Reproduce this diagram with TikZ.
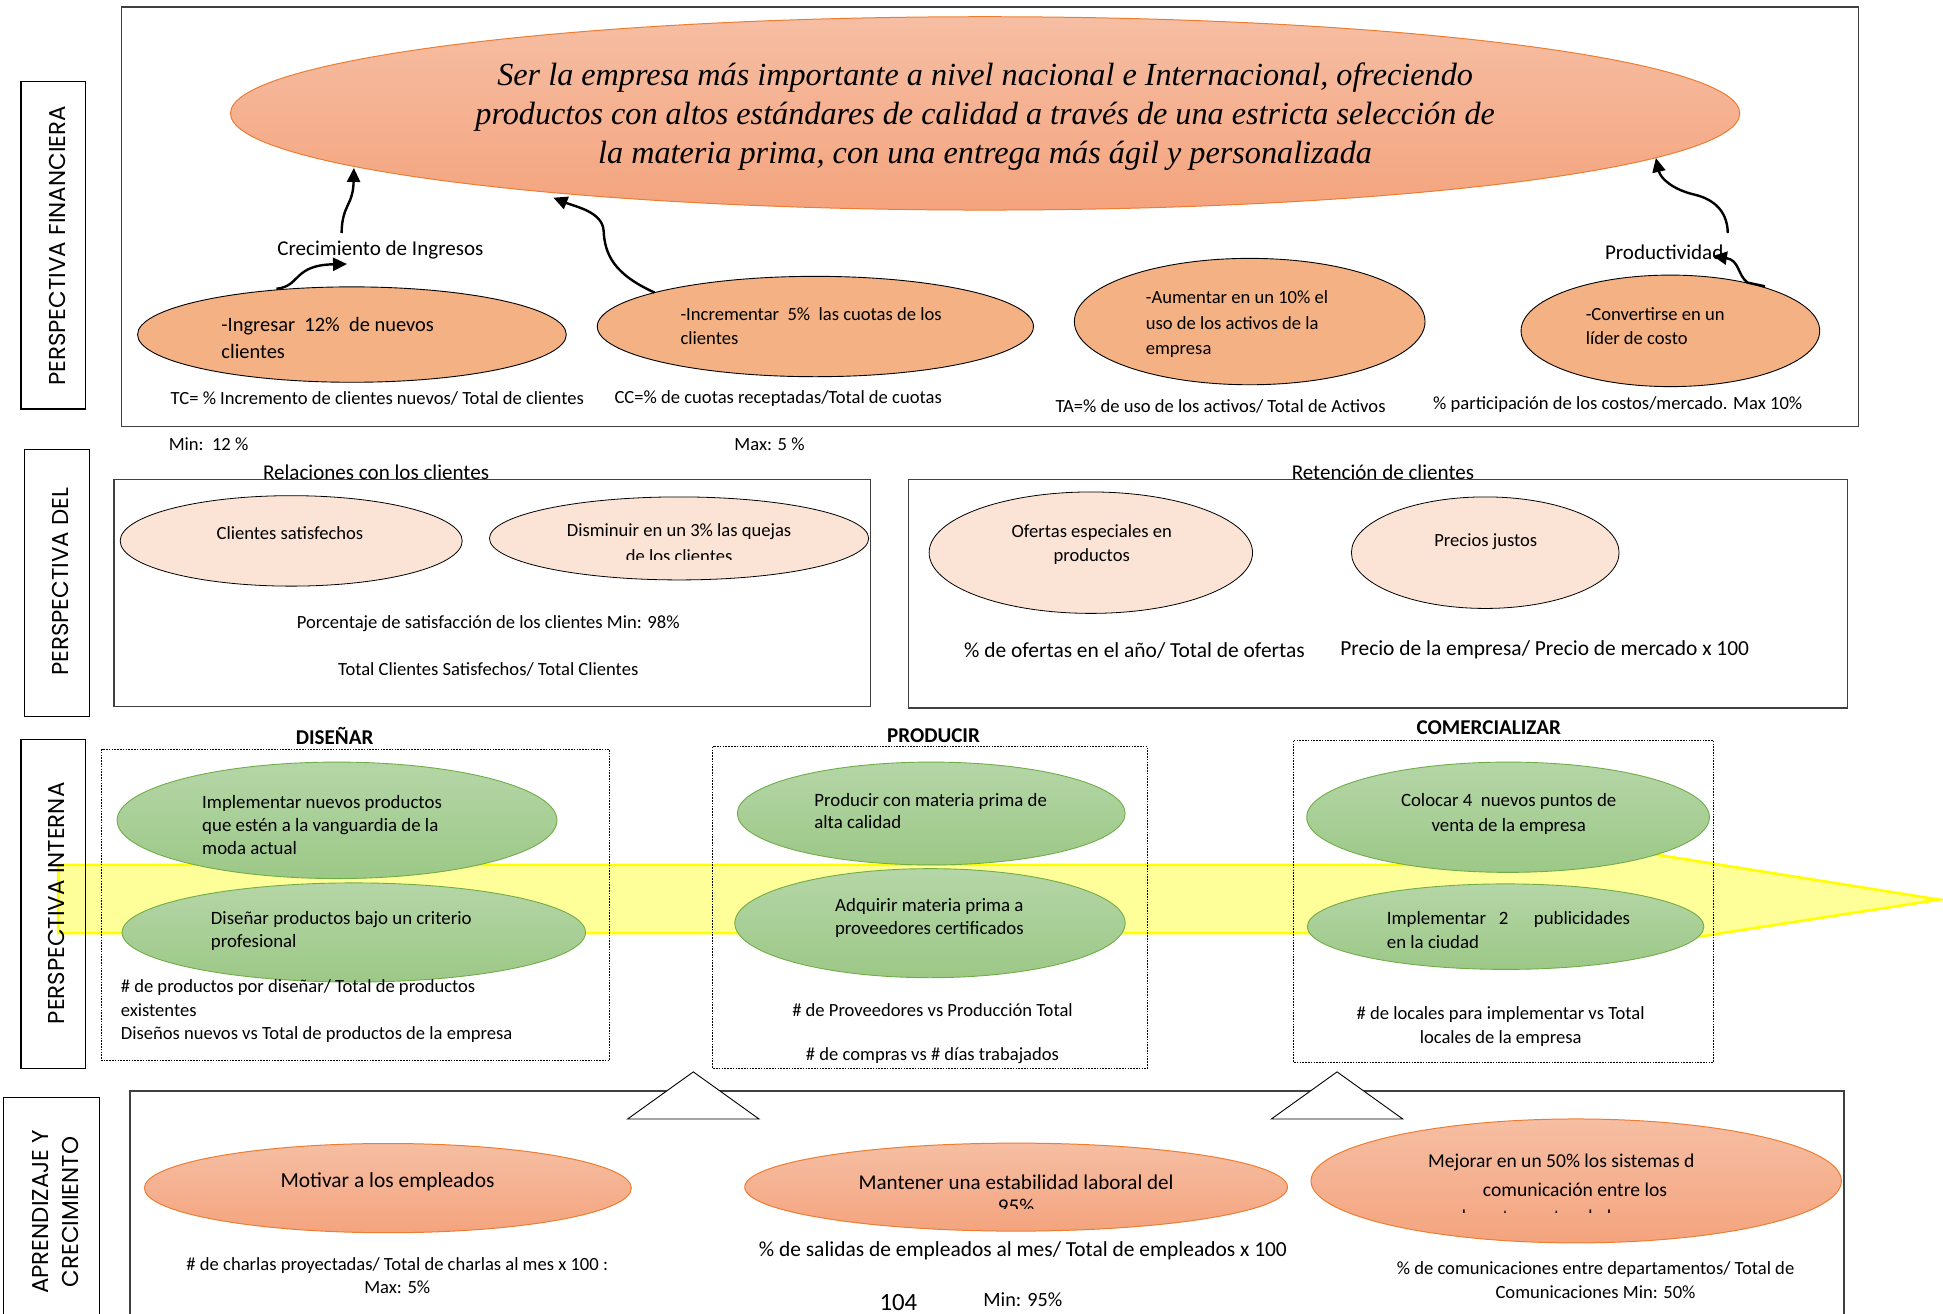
\documentclass[tikz,border=0pt]{standalone}
\usepackage{fontspec}
\setmainfont{Carlito}
\newfontfamily\misfont{Liberation Serif}
\newfontfamily\labfont{Poppins}
\usetikzlibrary{shapes.geometric,arrows.meta}
\definecolor{saltop}{HTML}{F6BEA3}
\definecolor{salbot}{HTML}{F4A47E}
\definecolor{salborder}{HTML}{ED7D31}
\definecolor{finfill}{HTML}{F4B183}
\definecolor{clifill}{HTML}{FBE4D5}
\definecolor{grntop}{HTML}{B5D6A7}
\definecolor{grnbot}{HTML}{9CC887}
\definecolor{grnborder}{HTML}{70AD47}
\definecolor{bandfill}{HTML}{FFFF99}
\definecolor{bandline}{HTML}{FFFF00}
\definecolor{framegray}{HTML}{404040}
\newcommand{\fz}[2]{\fontsize{#1}{#2}\selectfont}
\begin{document}
\begin{tikzpicture}[x=1pt,y=-1pt,scale=1.239,
  every node/.append style={transform shape,inner sep=0pt},
  tx/.style={font=\fz{15}{19},align=center},
  txl/.style={font=\fz{15}{19},align=left,anchor=west},
  frame/.style={draw=framegray,line width=1.4pt},
  labbox/.style={draw=black,line width=1.2pt},
  labtxt/.style={font=\labfont\fz{18.5}{24.6},rotate=90,align=center},
  dotbox/.style={draw=black,line width=0.8pt,dash pattern=on 1.6pt off 1.2pt},
  fin/.style={ellipse,draw=black,line width=0.9pt,fill=finfill},
  cli/.style={ellipse,draw=black,line width=0.8pt,fill=clifill},
  grn/.style={ellipse,draw=grnborder,line width=0.9pt,top color=grntop,bottom color=grnbot},
  sal/.style={ellipse,draw=salborder,line width=1pt,top color=saltop,bottom color=salbot},
  arr/.style={line width=2.4pt,-{Triangle[length=14pt,width=13pt]}},
  ttl/.style={font=\bfseries\fz{17}{20}}]
\useasboundingbox (0,0) rectangle (1568,1060);

% ---------------- Perspectiva financiera ----------------
\draw[frame] (98,5.5) rectangle (1500,344);
\draw[labbox] (17,66) rectangle (69,330);
\node[labtxt] (lfin) at (46.5,198.5) {PERSPECTIVA FINANCIERA};

\node[sal,minimum width=1218,minimum height=156] (mision) at (795,91.5) {};
\node[font=\misfont\itshape\fz{26}{31.6},align=center] (mtxt) at (795,94)
  {Ser la empresa más importante a nivel nacional e Internacional, ofreciendo\\
   productos con altos estándares de calidad a través de una estricta selección de\\
   la materia prima, con una entrega más ágil y personalizada};

\node[fin,minimum width=346,minimum height=77] (f1) at (284,270) {};
\node[txl,font=\fz{16.5}{21.5}] (f1t) at (178.5,273) {-Ingresar\ \ 12\%\ \ de nuevos\\clientes};
\node[fin,minimum width=352,minimum height=81] (f2) at (658,263.5) {};
\node[txl] (f2t) at (549,263) {-Incrementar\ \ 5\%\ \ las cuotas de los\\clientes};
\node[fin,minimum width=283,minimum height=102] (f3) at (1008.5,259.5) {};
\node[txl,font=\fz{15}{20.4}] (f3t) at (924.5,261.6) {-Aumentar en un 10\% el\\uso de los activos de la\\empresa};
\node[fin,minimum width=241,minimum height=90] (f4) at (1348,267) {};
\node[txl] (f4t) at (1279.5,263.4) {-Convertirse en un\\líder de costo};

\node[tx,font=\fz{17}{19}] (crec) at (307,201.8) {Crecimiento de Ingresos};
\node[tx,font=\fz{17}{19}] (prod) at (1343,203.6) {Productividad};

\node[tx] (kf1) at (304.5,321.5) {TC= \% Incremento de clientes nuevos/ Total de clientes};
\node[tx] (kf2) at (628,321.5) {CC=\% de cuotas receptadas/Total de cuotas};
\node[tx] (kf3) at (985,327.7) {TA=\% de uso de los activos/ Total de Activos};
\node[tx] (kf4) at (1305.5,326.8) {\% participación de los costos/mercado. Max 10\%};
\node[txl] (min12) at (136,358.5) {Min:\ \ 12 \%};
\node[tx] (max5) at (621,358.6) {Max: 5 \%};

% arrows
\coordinate (a1s) at (223,233);
\coordinate (a1e) at (280,213);
\draw[arr] (a1s) .. controls (243,231) and (236,214) .. (a1e);
\coordinate (a2s) at (275.6,188);
\coordinate (a2e) at (285.5,135.5);
\draw[arr] (a2s) .. controls (276,165) and (285,166) .. (a2e);
\coordinate (a3s) at (528,236);
\coordinate (a3m) at (487,186);
\coordinate (a3e) at (446.5,159.5);
\draw[arr] (a3s) .. controls (495,221) and (488,205) .. (a3m) .. controls (486,171) and (465,167) .. (a3e);
\coordinate (a4s) at (1394,188);
\coordinate (a4m) at (1367,157);
\coordinate (a4e) at (1336,127.5);
\draw[arr] (a4s) .. controls (1394,168) and (1380,160) .. (a4m) .. controls (1350,153) and (1340,144) .. (a4e);
\coordinate (a5s) at (1424,231);
\coordinate (a5m) at (1410,228);
\coordinate (a5e) at (1382,206.5);
\draw[arr] (a5s) -- (a5m) .. controls (1402,222) and (1404,210) .. (a5e);

% ---------------- Perspectiva del cliente ----------------
\draw[labbox] (20,362.5) rectangle (72.5,578);
\node[labtxt] (lcli) at (48.5,469.5) {PERSPECTIVA DEL};

\draw[frame] (92,387) rectangle (702.5,570);
\draw[frame] (733,387) rectangle (1491,571.5);
\node[tx,font=\fz{17}{19}] (rel) at (303.5,381.5) {Relaciones con los clientes};
\node[tx,font=\fz{17}{19}] (ret) at (1116,381.5) {Retención de clientes};

\node[cli,minimum width=276,minimum height=73] (c1) at (235,436.5) {};
\node[tx] (c1t) at (234,430) {Clientes satisfechos};
\node[cli,minimum width=306,minimum height=67] (c2) at (548,434.5) {};
\node[tx] (c2t) at (548,429) {Disminuir en un 3\% las quejas};
\begin{scope}
  \clip (395,400) rectangle (701,451.5);
  \node[tx] (c2u) at (548,448.7) {de los clientes};
\end{scope}
\node[tx] (kc1) at (394,503) {Porcentaje de satisfacción de los clientes Min: 98\%};
\node[tx] (kc2) at (394,540) {Total Clientes Satisfechos/ Total Clientes};

\node[cli,minimum width=261,minimum height=98] (c3) at (880.3,446) {};
\node[tx] (c3t) at (881,439.5) {Ofertas especiales en\\productos};
\node[cli,minimum width=216,minimum height=90] (c4) at (1198.6,446) {};
\node[tx] (c4t) at (1199,437) {Precios justos};
\node[tx,font=\fz{17.3}{19}] (kc3) at (915.5,524.6) {\% de ofertas en el año/ Total de ofertas};
\node[tx,font=\fz{17.3}{19}] (kc4) at (1246.5,524.6) {Precio de la empresa/ Precio de mercado x 100};

% ---------------- Perspectiva interna ----------------
\filldraw[fill=bandfill,draw=bandline,line width=2.6pt,line join=miter]
  (47,698) -- (1260,698) -- (1260,677.5) -- (1565,726) -- (1260,773) -- (1260,753) -- (47,753) -- cycle;
\draw[labbox] (17,596.5) rectangle (69,862.5);
\node[labtxt] (lint) at (45.8,729) {PERSPECTIVA INTERNA};

\draw[dotbox] (82,604.5) rectangle (491.7,856);
\draw[dotbox] (575,602.6) rectangle (926,862);
\draw[dotbox] (1043.6,597.8) rectangle (1383,857);
\node[ttl] (dis) at (270,594) {DISEÑAR};
\node[ttl] (pro) at (753.4,594) {PRODUCIR};
\node[ttl] (com) at (1201.5,587) {COMERCIALIZAR};

\node[grn,minimum width=355,minimum height=94] (g1) at (272,662) {};
\node[txl,font=\fz{15.2}{18.5}] (g1t) at (163,665.5) {Implementar nuevos productos\\que estén a la vanguardia de la\\moda actual};
\node[grn,minimum width=374,minimum height=80] (g2) at (285.5,752.5) {};
\node[txl,font=\fz{15.2}{18}] (g2t) at (170,751.3) {Diseñar productos bajo un criterio\\profesional};
\node[grn,minimum width=313,minimum height=83] (g3) at (751.5,656.5) {};
\node[txl,font=\fz{15.2}{17.5}] (g3t) at (657,654.5) {Producir con materia prima de\\alta calidad};
\node[grn,minimum width=315,minimum height=88] (g4) at (750.5,745) {};
\node[tx,font=\fz{15.2}{18.5}] (g4t) at (750,740.5) {Adquirir materia prima a\\proveedores certificados};
\node[grn,minimum width=325,minimum height=89] (g5) at (1217,659.5) {};
\node[tx,font=\fz{15.2}{20}] (g5t) at (1217.5,657) {Colocar 4\ \ nuevos puntos de\\venta de la empresa};
\node[grn,minimum width=320,minimum height=69] (g6) at (1215,747.8) {};
\node[txl,font=\fz{15.2}{18}] (g6t) at (1119,741.8) {Implementar\ \ \ 2\ \ \ \ \ \ publicidades};
\begin{scope}
  \clip (1055,745) rectangle (1376,764.5);
  \node[txl,font=\fz{15.2}{18}] (g6u) at (1119,760) {en la ciudad};
\end{scope}

\node[txl] (ki1) at (97.3,816) {\# de productos por diseñar/ Total de productos\\existentes\\Diseños nuevos vs Total de productos de la empresa};
\node[tx] (ki2) at (752.5,815) {\# de Proveedores vs Producción Total};
\node[tx] (ki3) at (752.5,852) {\# de compras vs \# días trabajados};
\node[tx] (ki4) at (1211,828.3) {\# de locales para implementar vs Total\\locales de la empresa};

% ---------------- Aprendizaje y crecimiento ----------------
\draw[labbox] (3,1062) -- (3,885.5) -- (80,885.5) -- (80,1062);
\node[labtxt] (lapr) at (44.7,978) {APRENDIZAJE Y\\CRECIMIENTO};
\draw[frame] (105,1062) -- (105,880.5) -- (1488,880.5) -- (1488,1062);
\filldraw[fill=white,draw=black,line width=0.9pt] (559.5,865) -- (612.5,903) -- (506.5,903) -- cycle;
\filldraw[fill=white,draw=black,line width=0.9pt] (1079,865) -- (1132,903) -- (1026,903) -- cycle;

\node[sal,minimum width=393,minimum height=72] (s1) at (313,958.8) {};
\node[tx,font=\fz{17.3}{20}] (s1t) at (312.7,953.7) {Motivar a los empleados};
\node[sal,minimum width=438,minimum height=71] (s2) at (820,958) {};
\node[tx,font=\fz{17}{20}] (s2t) at (820,953.7) {Mantener una estabilidad laboral del};
\begin{scope}
  \clip (601,962) rectangle (1039,975.3);
  \node[tx,font=\fz{17}{20}] (s2u) at (820,973.5) {95\%};
\end{scope}
\node[sal,minimum width=428,minimum height=100] (s3) at (1272,953) {};
\node[tx,font=\fz{15.8}{22.5}] (s3t) at (1260,937.8) {Mejorar en un 50\% los sistemas d};
\node[tx,font=\fz{15.8}{22.5}] (s3v) at (1271,960.3) {comunicación entre los};
\begin{scope}
  \clip (1058,968) rectangle (1486,978.3);
  \node[tx,font=\fz{15.8}{22.5}] (s3u) at (1271,982.8) {departamentos de la empresa};
\end{scope}

\node[tx] (kl1) at (320.6,1029.5) {\# de charlas proyectadas/ Total de charlas al mes x 100 :\\Max: 5\%};
\node[tx,font=\fz{17.3}{20}] (kl2) at (825.5,1009) {\% de salidas de empleados al mes/ Total de empleados x 100};
\node[tx,font=\fz{20}{22}] (pag) at (725,1051.5) {104};
\node[tx,font=\fz{16.3}{18}] (kl3) at (825.5,1049) {Min: 95\%};
\node[tx] (kl4) at (1287.6,1033) {\% de comunicaciones entre departamentos/ Total de\\Comunicaciones Min: 50\%};
\end{tikzpicture}
\end{document}
